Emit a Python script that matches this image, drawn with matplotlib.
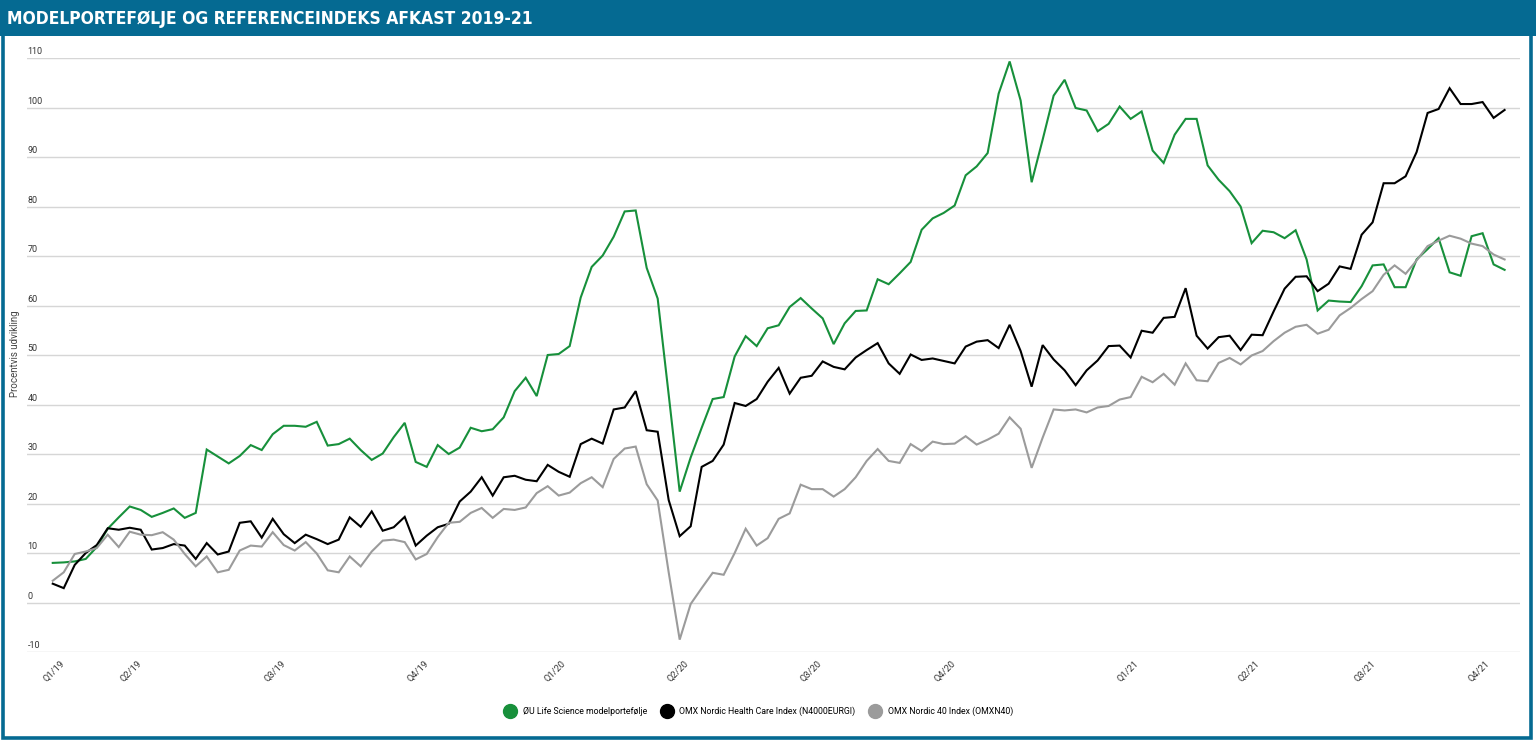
import numpy as np
import matplotlib.pyplot as plt
from matplotlib.lines import Line2D
from matplotlib.patches import Rectangle
import matplotlib.transforms as mtransforms

# Ugentlige datapunkter, procentvis udvikling
green = [8.0, 8.1, 8.3, 8.8, 11.2, 14.9, 17.2, 19.4, 18.7, 17.3,
         18.1, 19.0, 17.1, 18.1, 30.9, 29.5, 28.1, 29.6, 31.8, 30.8,
         34.0, 35.7, 35.7, 35.5, 36.5, 31.7, 32.0, 33.1, 30.8, 28.8,
         30.1, 33.4, 36.3, 28.4, 27.4, 31.8, 30.0, 31.3, 35.3, 34.6,
         35.0, 37.4, 42.7, 45.4, 41.7, 50.0, 50.2, 51.8, 61.6, 67.8,
         70.1, 73.9, 79.0, 79.2, 67.6, 61.4, 42.0, 22.4, 29.3, 35.3,
         41.1, 41.5, 49.7, 53.8, 51.8, 55.4, 56.0, 59.7, 61.5, 59.4,
         57.4, 52.2, 56.4, 58.9, 59.0, 65.3, 64.3, 66.5, 68.8, 75.3,
         77.6, 78.7, 80.2, 86.3, 88.1, 90.8, 102.8, 109.3, 101.4, 84.9,
         93.5, 102.4, 105.6, 99.9, 99.4, 95.2, 96.7, 100.2, 97.7, 99.2,
         91.3, 88.8, 94.5, 97.7, 97.7, 88.3, 85.4, 83.1, 80.0, 72.6,
         75.1, 74.8, 73.6, 75.2, 69.3, 59.0, 61.0, 60.8, 60.7, 63.9,
         68.1, 68.3, 63.7, 63.7, 69.3, 71.4, 73.6, 66.7, 66.0, 74.0,
         74.6, 68.3, 67.2]

black = [3.8, 2.9, 7.6, 10.0, 11.6, 15.0, 14.7, 15.1, 14.7, 10.7,
         11.0, 11.8, 11.5, 8.8, 12.0, 9.7, 10.3, 16.1, 16.4, 13.1,
         16.9, 13.8, 12.0, 13.7, 12.8, 11.8, 12.7, 17.2, 15.3, 18.4,
         14.5, 15.2, 17.3, 11.5, 13.5, 15.2, 15.9, 20.4, 22.4, 25.3,
         21.6, 25.3, 25.6, 24.8, 24.5, 27.8, 26.4, 25.4, 32.0, 33.1,
         32.1, 39.0, 39.4, 42.7, 34.8, 34.5, 20.7, 13.4, 15.4, 27.4,
         28.6, 31.9, 40.3, 39.7, 41.1, 44.6, 47.4, 42.2, 45.4, 45.8,
         48.7, 47.6, 47.1, 49.5, 51.0, 52.4, 48.3, 46.2, 50.1, 49.0,
         49.3, 48.8, 48.3, 51.7, 52.7, 53.0, 51.4, 56.1, 50.8, 43.6,
         52.0, 49.1, 46.9, 43.9, 46.9, 48.9, 51.8, 51.9, 49.5, 54.9,
         54.5, 57.5, 57.7, 63.5, 53.9, 51.3, 53.6, 53.9, 51.0, 54.1,
         54.0, 58.8, 63.4, 65.8, 65.9, 62.9, 64.4, 67.9, 67.4, 74.3,
         76.8, 84.7, 84.7, 86.1, 91.0, 98.9, 99.7, 103.9, 100.7, 100.7,
         101.1, 97.9, 99.5]

gray = [4.4, 6.1, 9.8, 10.3, 11.0, 13.7, 11.2, 14.3, 13.7, 13.6,
        14.2, 12.7, 9.8, 7.3, 9.3, 6.1, 6.6, 10.5, 11.5, 11.3,
        14.2, 11.6, 10.5, 12.2, 9.9, 6.5, 6.1, 9.3, 7.3, 10.3,
        12.5, 12.7, 12.2, 8.7, 9.8, 13.2, 16.1, 16.3, 18.1, 19.1,
        17.1, 18.9, 18.7, 19.2, 22.1, 23.5, 21.6, 22.2, 24.1, 25.3,
        23.3, 29.0, 31.1, 31.5, 23.9, 20.6, 6.1, -7.5, -0.3, 2.9,
        6.0, 5.6, 10.0, 14.9, 11.5, 13.0, 16.9, 18.0, 23.8, 22.9,
        22.9, 21.4, 22.9, 25.3, 28.6, 31.0, 28.6, 28.2, 32.0, 30.6,
        32.5, 32.0, 32.1, 33.6, 31.9, 32.9, 34.1, 37.4, 35.1, 27.2,
        33.3, 39.0, 38.8, 39.0, 38.4, 39.4, 39.7, 41.0, 41.5, 45.6,
        44.5, 46.2, 44.0, 48.3, 44.9, 44.7, 48.4, 49.4, 48.1, 49.9,
        50.8, 52.8, 54.5, 55.7, 56.1, 54.3, 55.1, 58.0, 59.5, 61.3,
        62.9, 66.2, 68.1, 66.4, 69.1, 72.0, 73.1, 74.1, 73.5, 72.5,
        72.0, 70.3, 69.3]

series_names = ['ØU Life Science modelportefølje',
                'OMX Nordic Health Care Index (N4000EURGI)',
                'OMX Nordic 40 Index (OMXN40)']
series_colors = ['#17903b', '#000000', '#9b9b9b']

quarter_labels = ['Q1/19', 'Q2/19', 'Q3/19', 'Q4/19', 'Q1/20', 'Q2/20',
                  'Q3/20', 'Q4/20', 'Q1/21', 'Q2/21', 'Q3/21', 'Q4/21']
quarter_pos = [0.7, 7.7, 20.8, 33.8, 46.2, 57.4, 69.5, 81.7, 98.3, 109.3, 119.9, 130.2]

y_ticks = list(range(-10, 111, 10))

title = 'MODELPORTEFØLJE OG REFERENCEINDEKS AFKAST 2019-21'
blue = '#056a92'

plt.rcParams['font.family'] = ['Roboto', 'DejaVu Sans']

W, H = 1536, 741
fig = plt.figure(figsize=(W / 100, H / 100), dpi=100)

# Ramme og titelbjælke
fig.patches.append(Rectangle((3 / W, 3 / H), 1 - 8 / W, 1 - 6 / H, transform=fig.transFigure,
                             fill=False, edgecolor=blue, linewidth=2.6))
fig.patches.append(Rectangle((0, 1 - 36 / H), 1, 36 / H, transform=fig.transFigure,
                             facecolor=blue, edgecolor='none'))
fig.text(7 / W, 1 - 19 / H, title, color='white', fontsize=12.5, fontweight='bold',
         family='DejaVu Sans', fontstretch='condensed', va='center', ha='left')

left, right, top, bottom = 27, 1520, 58, 652
ax = fig.add_axes([left / W, 1 - bottom / H, (right - left) / W, (bottom - top) / H])

x = np.arange(len(green))
for vals, name, col in zip([green, black, gray], series_names, series_colors):
    ax.plot(x, vals, color=col, linewidth=1.5, label=name, solid_joinstyle='miter')

ax.set_xlim(-2.34, 133.4)
ax.set_ylim(-10, 110)
ax.set_yticks(y_ticks)
ax.yaxis.grid(True, color='#d6d6d6', linewidth=1)
ax.set_axisbelow(True)
ax.tick_params(axis='y', length=0, labelleft=False)
for s in ax.spines.values():
    s.set_visible(False)

trans = mtransforms.blended_transform_factory(ax.transAxes, ax.transData)
for v in y_ticks:
    ax.annotate(str(v), xy=(0, v), xycoords=trans, xytext=(0.5, 1.2), textcoords='offset points',
                ha='left', va='bottom', fontsize=6.5, color='#333333')

ax.set_xticks(quarter_pos)
ax.set_xticklabels(quarter_labels, rotation=45, ha='right', va='top', rotation_mode='anchor',
                   fontsize=6.7, color='#333333')
ax.tick_params(axis='x', length=0, pad=5)

fig.text(15 / W, 1 - 354 / H, 'Procentvis udvikling', rotation=90, ha='center', va='center',
         fontsize=7, color='#444444')

handles = [Line2D([], [], linestyle='none', marker='o', markersize=10, color=c) for c in series_colors]
fig.legend(handles, series_names, loc='center', bbox_to_anchor=(759 / W, 1 - 711 / H), ncol=3,
           frameon=False, fontsize=6.3, handletextpad=0.8, columnspacing=1.7, handlelength=1.2)

fig.savefig('out.png', dpi=100)
